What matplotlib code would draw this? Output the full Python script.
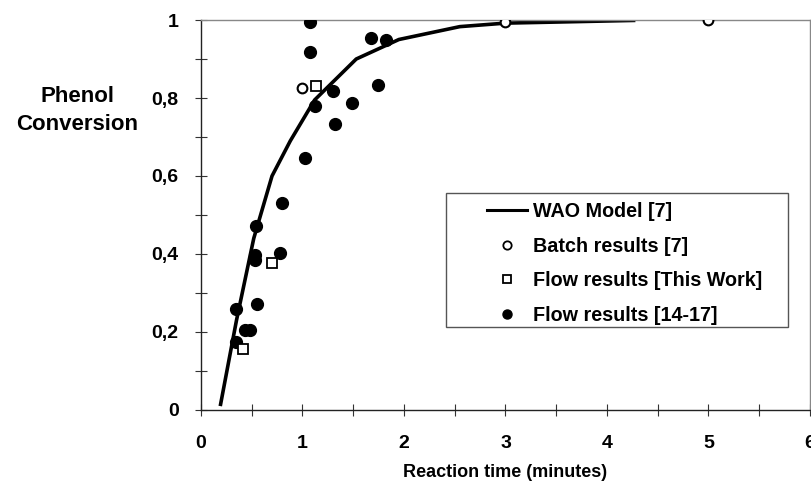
import matplotlib
matplotlib.use("Agg")
import matplotlib.pyplot as plt
from matplotlib.lines import Line2D
from matplotlib.patches import Rectangle
from matplotlib.ticker import MultipleLocator, FuncFormatter

# WAO model curve [7]
model_t = [0.19, 0.35, 0.52, 0.70, 0.88, 1.12, 1.53, 1.95, 2.55, 3.0, 4.28]
model_x = [0.01, 0.23, 0.44, 0.60, 0.69, 0.795, 0.90, 0.95, 0.983, 0.992, 0.999]

# batch results [7]
batch_t = [1.0, 3.0, 5.0]
batch_x = [0.826, 0.994, 1.0]

# flow results, this work
this_t = [0.41, 0.70, 1.13]
this_x = [0.156, 0.376, 0.831]

# flow results [14-17]
lit_t = [0.35, 0.35, 0.43, 0.48, 0.53, 0.53, 0.55, 0.54, 0.78, 0.80, 1.02,
         1.07, 1.07, 1.12, 1.30, 1.32, 1.49, 1.68, 1.74, 1.82]
lit_x = [0.175, 0.259, 0.205, 0.205, 0.397, 0.385, 0.272, 0.473, 0.402, 0.53, 0.646,
         0.996, 0.917, 0.780, 0.819, 0.734, 0.787, 0.953, 0.833, 0.950]

sans = ['Liberation Sans', 'DejaVu Sans']

fig = plt.figure(figsize=(8.12, 4.82), dpi=100)
ax = fig.add_axes([0.2475, 0.1494, 0.75, 0.8091])

ax.plot(model_t, model_x, color='black', lw=2.6, solid_capstyle='butt', zorder=2)
ax.plot(lit_t, lit_x, 'o', color='black', ms=8.5, zorder=3)
ax.plot(this_t, this_x, 's', mfc='white', mec='black', mew=1.3, ms=7.5, zorder=4)
ax.plot(batch_t, batch_x, 'o', mfc='white', mec='black', mew=1.5, ms=7, zorder=4)

ax.set_xlim(0, 6)
ax.set_ylim(0, 1)
ax.xaxis.set_major_locator(MultipleLocator(1))
ax.xaxis.set_minor_locator(MultipleLocator(0.5))
ax.yaxis.set_major_locator(MultipleLocator(0.2))
ax.yaxis.set_minor_locator(MultipleLocator(0.1))
ax.yaxis.set_major_formatter(FuncFormatter(lambda v, p: ('%g' % round(v, 1)).replace('.', ',')))
ax.tick_params(which='both', direction='inout', length=8, width=0.8, color='#333333')
ax.tick_params(axis='x', pad=14)
ax.tick_params(axis='y', pad=12)
for lab in ax.get_xticklabels() + ax.get_yticklabels():
    lab.set_family(sans)
    lab.set_fontweight('bold')
    lab.set_fontsize(14)

for s in ['left', 'bottom']:
    ax.spines[s].set_linewidth(1.0)
    ax.spines[s].set_color('#222222')
for s in ['top', 'right']:
    ax.spines[s].set_linewidth(1.0)
    ax.spines[s].set_color('#888888')

ax.set_xlabel('Reaction time (minutes)', family=sans, fontweight='bold',
              fontsize=13, labelpad=9)
fig.text(0.095, 0.771, 'Phenol\nConversion', family=sans, fontweight='bold',
         fontsize=16, ha='center', va='center', linespacing=1.45)

# legend frame drawn separately so the padding matches the original box
ax.add_patch(Rectangle((0.402, 0.213), 0.562, 0.343, transform=ax.transAxes,
                       fill=False, ec='#555555', lw=1.0, zorder=5))

handles = [
    Line2D([], [], color='black', lw=2.2),
    Line2D([], [], ls='none', marker='o', mfc='white', mec='black', mew=1.3, ms=6),
    Line2D([], [], ls='none', marker='s', mfc='white', mec='black', mew=1.3, ms=6),
    Line2D([], [], ls='none', marker='o', color='black', ms=6.5),
]
labels = ['WAO Model [7]', 'Batch results [7]', 'Flow results [This Work]',
          'Flow results [14-17]']
leg = ax.legend(handles, labels, loc='center left', bbox_to_anchor=(0.4696, 0.3756),
                frameon=False, prop={'family': sans, 'weight': 'bold', 'size': 14.2},
                handlelength=2.05, handletextpad=0.3, labelspacing=0.8,
                borderpad=0, borderaxespad=0)

fig.savefig('out.png', dpi=100)
